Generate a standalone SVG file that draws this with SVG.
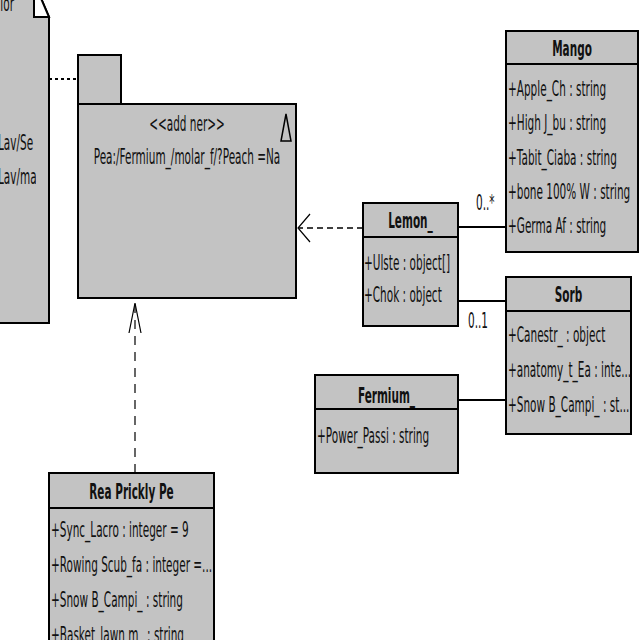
<svg xmlns="http://www.w3.org/2000/svg" width="640" height="640" viewBox="0 0 640 640">
<defs>
<style>
.box{fill:#c3c3c3;stroke:#000;stroke-width:2}
.ln{fill:none;stroke:#000;stroke-width:2}
.t{font-family:"DejaVu Sans",sans-serif;font-size:22px;fill:#111}
.b{font-family:"DejaVu Sans",sans-serif;font-size:22px;font-weight:bold;fill:#111;text-anchor:middle}
.c{text-anchor:middle}
</style>
<clipPath id="noteclip"><rect x="-10" y="0" width="46" height="330"/></clipPath>
</defs>
<rect width="640" height="640" fill="#fff"/>

<g id="note">
<polygon class="box" points="-10,-18 34,-18 49,17 49,323 -10,323"/>
<polygon points="34,-18 34,17 49,17" fill="#fff" stroke="#000" stroke-width="2"/>
<g clip-path="url(#noteclip)">
<text class="t" transform="translate(14,11) scale(0.477,1)" text-anchor="end">lor</text>
<text class="t" transform="translate(-2,150) scale(0.477,1)">Lav/Se</text>
<text class="t" transform="translate(-2,184) scale(0.477,1)">Lav/ma</text>
</g>
</g>

<g id="package">
<rect class="box" x="78" y="55" width="43" height="49"/>
<rect class="box" x="78" y="104" width="218" height="194"/>
<polygon points="286,114 281,141 291,141" fill="none" stroke="#000" stroke-width="1.5"/>
<text class="t c" transform="translate(187,131) scale(0.477,1)">&lt;&lt;add ner&gt;&gt;</text>
<text class="t c" transform="translate(187,164) scale(0.477,1)">Pea:/Fermium_/molar_f/?Peach =Na</text>
</g>

<g id="mango">
<rect class="box" x="506" y="31" width="132" height="221"/>
<line class="ln" x1="506" y1="64" x2="638" y2="64"/>
<text class="b" transform="translate(572,56) scale(0.477,1)">Mango</text>
<text class="t" transform="translate(508,96) scale(0.477,1)">+Apple_Ch : string</text>
<text class="t" transform="translate(508,130) scale(0.477,1)">+High J_bu : string</text>
<text class="t" transform="translate(508,165) scale(0.477,1)">+Tabit_Ciaba : string</text>
<text class="t" transform="translate(508,199) scale(0.477,1)">+bone 100% W : string</text>
<text class="t" transform="translate(508,233) scale(0.477,1)">+Germa Af : string</text>
</g>

<g id="lemon">
<rect class="box" x="363" y="203" width="95" height="123"/>
<line class="ln" x1="363" y1="237" x2="458" y2="237"/>
<text class="b" transform="translate(410.5,228) scale(0.477,1)">Lemon_</text>
<text class="t" transform="translate(364,270) scale(0.477,1)">+Ulste : object[]</text>
<text class="t" transform="translate(364,302) scale(0.477,1)">+Chok : object</text>
</g>

<g id="sorb">
<rect class="box" x="506" y="277" width="125" height="157"/>
<line class="ln" x1="506" y1="311" x2="631" y2="311"/>
<text class="b" transform="translate(568.5,302) scale(0.477,1)">Sorb</text>
<text class="t" transform="translate(508,342) scale(0.477,1)">+Canestr_ : object</text>
<text class="t" transform="translate(508,377) scale(0.477,1)">+anatomy_t_Ea : inte...</text>
<text class="t" transform="translate(508,412) scale(0.477,1)">+Snow B_Campi_ : st...</text>
</g>

<g id="fermium">
<rect class="box" x="315" y="375" width="143" height="98"/>
<line class="ln" x1="315" y1="409" x2="458" y2="409"/>
<text class="b" transform="translate(386.5,403) scale(0.477,1)">Fermium_</text>
<text class="t" transform="translate(317,443) scale(0.477,1)">+Power_Passi : string</text>
</g>

<g id="rea">
<rect class="box" x="49" y="473" width="165" height="180"/>
<line class="ln" x1="49" y1="508" x2="214" y2="508"/>
<text class="b" transform="translate(131.5,499) scale(0.477,1)">Rea Prickly Pe</text>
<text class="t" transform="translate(51,537) scale(0.477,1)">+Sync_Lacro : integer = 9</text>
<text class="t" transform="translate(51,572) scale(0.477,1)">+Rowing Scub_fa : integer =...</text>
<text class="t" transform="translate(51,607) scale(0.477,1)">+Snow B_Campi_ : string</text>
<text class="t" transform="translate(51,642) scale(0.477,1)">+Basket_lawn m_ : string</text>
</g>

<g id="connectors">
<line x1="49" y1="79" x2="78" y2="79" stroke="#000" stroke-width="2" stroke-dasharray="3,3"/>
<line x1="363" y1="228" x2="299" y2="228" stroke="#000" stroke-width="1.5" stroke-dasharray="6,4"/>
<polyline points="310,214 298,228 310,242" fill="none" stroke="#000" stroke-width="1.2"/>
<line x1="135" y1="473" x2="135" y2="304" stroke="#000" stroke-width="1.2" stroke-dasharray="9,7"/>
<polyline points="129,333 135,303 141,333" fill="none" stroke="#000" stroke-width="1.2"/>
<line class="ln" x1="458" y1="227" x2="506" y2="227"/>
<line class="ln" x1="458" y1="301" x2="506" y2="301"/>
<line class="ln" x1="458" y1="400" x2="506" y2="400"/>
<text class="t" transform="translate(476,210) scale(0.477,1)">0..*</text>
<text class="t" transform="translate(468,328) scale(0.477,1)">0..1</text>
</g>
</svg>
